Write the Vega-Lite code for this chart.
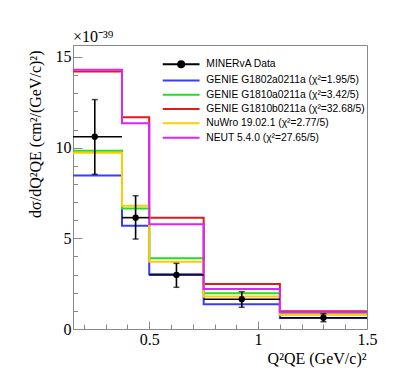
{
  "$schema": "https://vega.github.io/schema/vega-lite/v6.json",
  "width": 294,
  "height": 284,
  "autosize": {"type": "none"},
  "padding": {"left": 73, "top": 45, "right": 40, "bottom": 58},
  "background": "white",
  "title": {"text": "×10⁻³⁹", "anchor": "start", "frame": "group", "font": "Liberation Serif", "fontSize": 16, "fontWeight": "normal", "offset": 2, "dy": 15, "baseline": "alphabetic", "color": "black"},
  "config": {"view": {"stroke": "#888888", "strokeWidth": 1}},
  "datasets": {
    "hist": [
      {"series": "GENIE G1802a0211a (χ²=1.95/5)", "q2": 0.125, "xs": 8.47},
      {"series": "GENIE G1802a0211a (χ²=1.95/5)", "q2": 0.375, "xs": 5.7},
      {"series": "GENIE G1802a0211a (χ²=1.95/5)", "q2": 0.5, "xs": 3.02},
      {"series": "GENIE G1802a0211a (χ²=1.95/5)", "q2": 0.75, "xs": 1.36},
      {"series": "GENIE G1802a0211a (χ²=1.95/5)", "q2": 1.1, "xs": 0.6},
      {"series": "GENIE G1802a0211a (χ²=1.95/5)", "q2": 1.5, "xs": 0.6},
      {"series": "GENIE G1810a0211a (χ²=3.42/5)", "q2": 0.125, "xs": 9.83},
      {"series": "GENIE G1810a0211a (χ²=3.42/5)", "q2": 0.375, "xs": 6.65},
      {"series": "GENIE G1810a0211a (χ²=3.42/5)", "q2": 0.5, "xs": 3.9},
      {"series": "GENIE G1810a0211a (χ²=3.42/5)", "q2": 0.75, "xs": 1.97},
      {"series": "GENIE G1810a0211a (χ²=3.42/5)", "q2": 1.1, "xs": 0.82},
      {"series": "GENIE G1810a0211a (χ²=3.42/5)", "q2": 1.5, "xs": 0.82},
      {"series": "GENIE G1810b0211a (χ²=32.68/5)", "q2": 0.125, "xs": 14.2},
      {"series": "GENIE G1810b0211a (χ²=32.68/5)", "q2": 0.375, "xs": 11.68},
      {"series": "GENIE G1810b0211a (χ²=32.68/5)", "q2": 0.5, "xs": 6.14},
      {"series": "GENIE G1810b0211a (χ²=32.68/5)", "q2": 0.75, "xs": 2.48},
      {"series": "GENIE G1810b0211a (χ²=32.68/5)", "q2": 1.1, "xs": 0.98},
      {"series": "GENIE G1810b0211a (χ²=32.68/5)", "q2": 1.5, "xs": 0.98},
      {"series": "NuWro 19.02.1 (χ²=2.77/5)", "q2": 0.125, "xs": 9.72},
      {"series": "NuWro 19.02.1 (χ²=2.77/5)", "q2": 0.375, "xs": 6.8},
      {"series": "NuWro 19.02.1 (χ²=2.77/5)", "q2": 0.5, "xs": 3.71},
      {"series": "NuWro 19.02.1 (χ²=2.77/5)", "q2": 0.75, "xs": 1.79},
      {"series": "NuWro 19.02.1 (χ²=2.77/5)", "q2": 1.1, "xs": 0.78},
      {"series": "NuWro 19.02.1 (χ²=2.77/5)", "q2": 1.5, "xs": 0.78},
      {"series": "NEUT 5.4.0 (χ²=27.65/5)", "q2": 0.125, "xs": 14.3},
      {"series": "NEUT 5.4.0 (χ²=27.65/5)", "q2": 0.375, "xs": 11.35},
      {"series": "NEUT 5.4.0 (χ²=27.65/5)", "q2": 0.5, "xs": 5.77},
      {"series": "NEUT 5.4.0 (χ²=27.65/5)", "q2": 0.75, "xs": 2.21},
      {"series": "NEUT 5.4.0 (χ²=27.65/5)", "q2": 1.1, "xs": 0.93},
      {"series": "NEUT 5.4.0 (χ²=27.65/5)", "q2": 1.5, "xs": 0.93}
    ],
    "meas": [
      {"q2": 0.25, "xs": 10.6, "lo": 8.53, "hi": 12.65, "q2lo": 0.125, "q2hi": 0.375},
      {"q2": 0.4375, "xs": 6.14, "lo": 4.96, "hi": 7.35, "q2lo": 0.375, "q2hi": 0.5},
      {"q2": 0.625, "xs": 2.98, "lo": 2.3, "hi": 3.62, "q2lo": 0.5, "q2hi": 0.75},
      {"q2": 0.925, "xs": 1.64, "lo": 1.2, "hi": 2.06, "q2lo": 0.75, "q2hi": 1.1},
      {"q2": 1.3, "xs": 0.62, "lo": 0.4, "hi": 0.84, "q2lo": 1.1, "q2hi": 1.5}
    ]
  },
  "resolve": {"axis": {"x": "independent", "y": "independent"}},
  "layer": [
    {
      "data": {"name": "hist"},
      "mark": {"type": "line", "interpolate": "step-after", "strokeWidth": 2, "clip": true},
      "encoding": {
        "x": {"field": "q2", "type": "quantitative",
          "scale": {"domain": [0.15, 1.5], "nice": false, "zero": false},
          "axis": {"orient": "bottom", "values": [0.5, 1, 1.5], "format": "~g", "tickSize": -8, "tickColor": "#888888", "domain": false, "grid": false,
            "labelFont": "Liberation Serif", "labelFontSize": 16, "labelColor": "black", "labelPadding": 10, "labelFlush": false, "labelOverlap": false,
            "title": "Q²QE (GeV/c)²", "titleFont": "Liberation Serif", "titleFontSize": 16, "titleFontWeight": "normal", "titleColor": "black",
            "titleAlign": "right", "titleAnchor": "end", "titleX": 293, "titleY": 34, "titleBaseline": "alphabetic"}},
        "y": {"field": "xs", "type": "quantitative",
          "scale": {"domain": [0, 15.66], "nice": false, "zero": false},
          "axis": {"orient": "left", "values": [0, 5, 10, 15], "format": "d", "tickSize": -9, "tickColor": "#888888", "domain": false, "grid": false,
            "labelFont": "Liberation Serif", "labelFontSize": 16, "labelColor": "black", "labelPadding": 11, "labelFlush": false, "labelOverlap": false,
            "title": "dσ/dQ²QE (cm²/(GeV/c)²)", "titleFont": "Liberation Serif", "titleFontSize": 16, "titleFontWeight": "normal", "titleColor": "black",
            "titleAngle": -90, "titleAlign": "right", "titleAnchor": "end", "titleX": -38, "titleY": 5, "titleBaseline": "middle"}},
        "color": {"field": "series", "type": "nominal",
          "scale": {"domain": ["MINERvA Data", "GENIE G1802a0211a (χ²=1.95/5)", "GENIE G1810a0211a (χ²=3.42/5)", "GENIE G1810b0211a (χ²=32.68/5)", "NuWro 19.02.1 (χ²=2.77/5)", "NEUT 5.4.0 (χ²=27.65/5)"],
            "range": ["#000000", "#3a3aff", "#22dd22", "#e01b1b", "#ffcc00", "#dd22ff"]},
          "legend": {"orient": "none", "legendX": 103, "legendY": 14, "title": null, "padding": 0,
            "labelFont": "Liberation Sans", "labelFontSize": 10.3, "labelColor": "black", "labelOffset": 20, "rowPadding": 3.3,
            "symbolSize": 64, "symbolStrokeWidth": 2,
            "encode": {"symbols": {"update": {
              "shape": {"signal": "datum.value === 'MINERvA Data' ? 'M-4.6,0L4.6,0M-0.75,0A0.75,0.75,0,1,1,0.75,0A0.75,0.75,0,1,1,-0.75,0Z' : 'M-4.6,0L4.6,0'"},
              "fill": {"signal": "datum.value === 'MINERvA Data' ? 'black' : 'transparent'"},
              "stroke": {"scale": "color", "field": "value"},
              "strokeWidth": {"value": 2},
              "opacity": {"value": 1}}}}}}
      }
    },
    {
      "data": {"name": "meas"},
      "mark": {"type": "rule", "color": "black", "strokeWidth": 1.6},
      "encoding": {
        "x": {"field": "q2", "type": "quantitative",
          "axis": {"orient": "bottom", "values": [0.2, 0.3, 0.4, 0.6, 0.7, 0.8, 0.9, 1.1, 1.2, 1.3, 1.4], "labels": false, "tickSize": -5, "tickColor": "#888888", "domain": false, "grid": false, "title": null}},
        "y": {"field": "lo", "type": "quantitative",
          "axis": {"orient": "left", "values": [1, 2, 3, 4, 6, 7, 8, 9, 11, 12, 13, 14], "labels": false, "tickSize": -4.5, "tickColor": "#888888", "domain": false, "grid": false, "title": null}},
        "y2": {"field": "hi"}
      }
    },
    {
      "data": {"name": "meas"},
      "mark": {"type": "rule", "color": "black", "strokeWidth": 1.6, "clip": true},
      "encoding": {
        "x": {"field": "q2lo", "type": "quantitative", "axis": null},
        "x2": {"field": "q2hi"},
        "y": {"field": "xs", "type": "quantitative", "axis": null}
      }
    },
    {
      "data": {"name": "meas"},
      "transform": [{"fold": ["lo", "hi"], "as": ["end", "yv"]}],
      "mark": {"type": "tick", "orient": "horizontal", "color": "black", "size": 6, "thickness": 1.5},
      "encoding": {
        "x": {"field": "q2", "type": "quantitative", "axis": null},
        "y": {"field": "yv", "type": "quantitative", "axis": null}
      }
    },
    {
      "data": {"name": "meas"},
      "mark": {"type": "circle", "color": "black", "opacity": 1, "size": 40},
      "encoding": {
        "x": {"field": "q2", "type": "quantitative", "axis": null},
        "y": {"field": "xs", "type": "quantitative", "axis": null}
      }
    }
  ]
}
